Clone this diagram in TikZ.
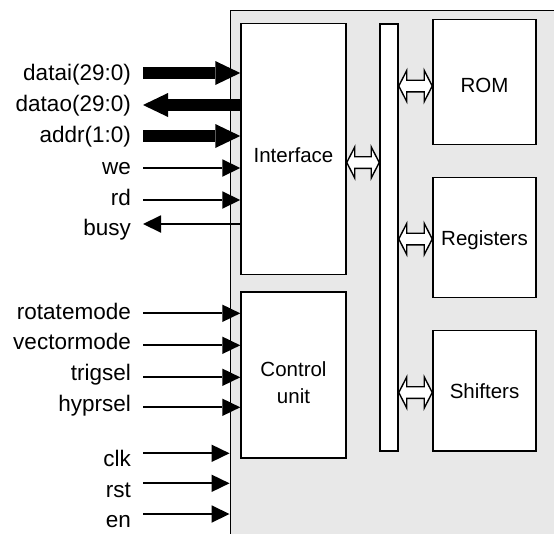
\documentclass[tikz,border=0pt]{standalone}
\usepackage{fontspec}
\setmainfont{Liberation Sans}
\usetikzlibrary{arrows.meta,calc}
\definecolor{chipgray}{RGB}{232,232,232}

% hollow two-headed bus arrow between the east side of #1 and the west side of #2, at the height of coordinate #3
\newcommand\busconn[3]{%
  \draw[hollowbus] let \p1=(#1.east), \p2=(#2.west), \n1={\x2-\x1-16pt} in
    (#1.east |- #3) -- ++(8,-15.5) -- ++(0,9.7) -- ++(\n1,0pt) -- ++(0,-9.7)
    -- ++(8,15.5) -- ++(-8,15.5) -- ++(0,-9.7) -- ++(-\n1,0pt) -- ++(0,9.7) -- cycle;}

\begin{document}
\begin{tikzpicture}[x=1pt,y=-1pt,
  blk/.style={draw, fill=white, line width=1.5pt, inner sep=0pt},
  inlbl/.style={font=\fontsize{20.5}{26.7}\selectfont, inner sep=0pt},
  sig/.style={font=\fontsize{22.5}{27}\selectfont, inner sep=0pt, anchor=base east},
  widebus/.style={line width=12.5pt, -{Triangle[length=25pt,width=24pt,line width=0pt]}},
  wire/.style={line width=2.2pt, -{Triangle[length=18pt,width=17.5pt,line width=0pt]}},
  hollowbus/.style={draw, fill=white, line width=1.4pt, line join=miter}]

\useasboundingbox (0,0) rectangle (554,533);
\clip (0,0) rectangle (554,533);

% chip outline
\node[draw, fill=chipgray, line width=1.5pt, anchor=north west, inner sep=0pt,
      minimum width=400pt, minimum height=600pt] (chip) at (229.5,9.5) {};

% internal blocks
\node[blk, minimum width=105pt, minimum height=251pt] (iface) at (293.5,149) {};
\node[blk, minimum width=105pt, minimum height=166pt] (ctrl) at (293.5,375.2) {};
\node[blk, minimum width=18pt, minimum height=427pt] (bus) at (389,237.5) {};
\node[blk, minimum width=103pt, minimum height=125pt] (rom) at (484.5,81.8) {};
\node[blk, minimum width=103pt, minimum height=120pt] (regs) at (484.5,237.7) {};
\node[blk, minimum width=103pt, minimum height=120.3pt] (shift) at (484.5,390.8) {};

\node[inlbl, anchor=base] (iface-t) at ([yshift=-13pt]iface.center) {Interface};
\node[inlbl, anchor=base, align=center] (ctrl-t) at (293.5,403.3) {Control\\unit};
\node[inlbl, anchor=base] (rom-t) at ([yshift=-10.9pt]rom.center) {ROM};
\node[inlbl, anchor=base] (regs-t) at ([yshift=-7.3pt]regs.center) {Registers};
\node[inlbl, anchor=base] (shift-t) at ([yshift=-8pt]shift.center) {Shifters};

% internal bus connections
\coordinate (y-if) at (0,162.5);
\coordinate (y-rom) at (0,86);
\coordinate (y-reg) at (0,239);
\coordinate (y-sh) at (0,392.5);
\busconn{iface}{bus}{y-if}
\busconn{bus}{rom}{y-rom}
\busconn{bus}{regs}{y-reg}
\busconn{bus}{shift}{y-sh}

% port names
\node[sig] (l-datai) at (131,80) {datai(29:0)};
\node[sig] (l-datao) at (131,111.5) {datao(29:0)};
\node[sig] (l-addr) at (131,142.5) {addr(1:0)};
\node[sig] (l-we) at (131,174.5) {we};
\node[sig] (l-rd) at (131,205.8) {rd};
\node[sig] (l-busy) at (131,235) {busy};
\node[sig] (l-rot) at (131,319.3) {rotatemode};
\node[sig] (l-vec) at (131,349.3) {vectormode};
\node[sig] (l-trig) at (131,380.5) {trigsel};
\node[sig] (l-hyp) at (131,411.7) {hyprsel};
\node[sig] (l-clk) at (131,466) {clk};
\node[sig] (l-rst) at (131,497.3) {rst};
\node[sig] (l-en) at (131,527.3) {en};

% outer ends of the port wires
\coordinate (p-datai) at (143,73);
\coordinate (p-datao) at (143,105);
\coordinate (p-addr) at (143,136);
\coordinate (p-we) at (143,168);
\coordinate (p-rd) at (143,200);
\coordinate (p-busy) at (143,224);
\coordinate (p-rot) at (143,313.3);
\coordinate (p-vec) at (143,345.3);
\coordinate (p-trig) at (143,377.3);
\coordinate (p-hyp) at (143,407.3);
\coordinate (p-clk) at (143,453.3);
\coordinate (p-rst) at (143,483.3);
\coordinate (p-en) at (143,514);

% port wires
\draw[widebus] (p-datai) -- (p-datai -| iface.west);
\draw[widebus] (p-datao -| iface.west) -- (p-datao);
\draw[widebus] (p-addr) -- (p-addr -| iface.west);
\draw[wire] (p-we) -- (p-we -| iface.west);
\draw[wire] (p-rd) -- (p-rd -| iface.west);
\draw[wire] (p-busy -| iface.west) -- (p-busy);
\draw[wire] (p-rot) -- (p-rot -| ctrl.west);
\draw[wire] (p-vec) -- (p-vec -| ctrl.west);
\draw[wire] (p-trig) -- (p-trig -| ctrl.west);
\draw[wire] (p-hyp) -- (p-hyp -| ctrl.west);
\draw[wire] (p-clk) -- (p-clk -| chip.west);
\draw[wire] (p-rst) -- (p-rst -| chip.west);
\draw[wire] (p-en) -- (p-en -| chip.west);
\end{tikzpicture}
\end{document}
